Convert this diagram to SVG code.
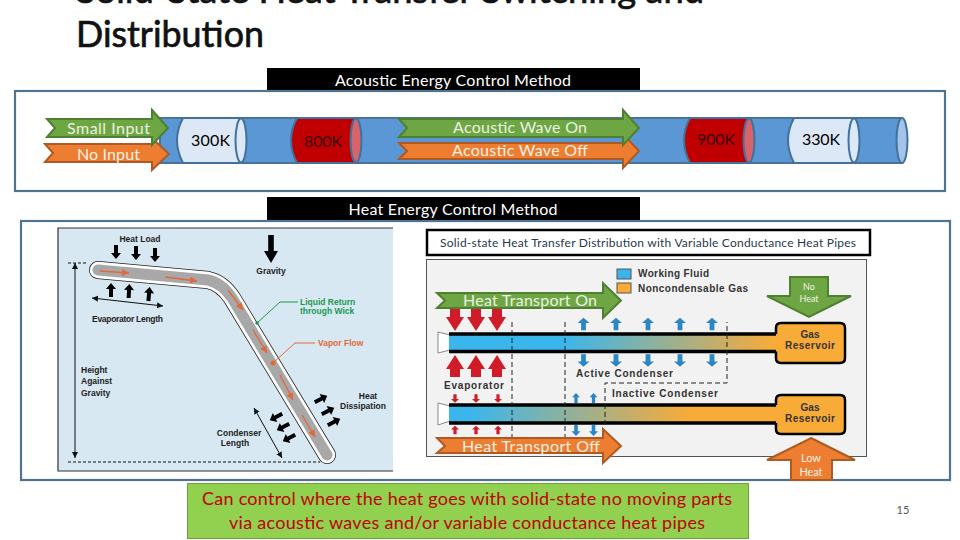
<svg xmlns="http://www.w3.org/2000/svg" width="960" height="540" viewBox="0 0 960 540">
<style>
text{font-family:"Liberation Sans",Arial,sans-serif}
.cal{font-family:Lato,"Open Sans",sans-serif}
.frame{fill:#fff;stroke:#4f7391;stroke-width:2.2}
.bar{fill:#000}
.barT{fill:#fff;font-size:16px;text-anchor:middle;font-family:Lato,sans-serif}
.pipe{fill:#5b97d5;stroke:#4a7396;stroke-width:2}
.ln{stroke:#41719c;stroke-width:2}
.cold{fill:#dce8f5}
.hot{fill:#c00000}
.hotEnd{fill:#d9636b}
.g{fill:#6fa644;stroke:#4f7f30;stroke-width:2}
.o{fill:#ed7d31;stroke:#ae5a22;stroke-width:2}
.aT{fill:#e9f2e2;font-size:16px;text-anchor:middle;font-family:Lato,sans-serif}
.oT{fill:#fdf0e4;font-size:16px;text-anchor:middle;font-family:Lato,sans-serif}
.k{fill:#000;font-size:16px;text-anchor:middle;font-family:Lato,sans-serif}
.small{font-size:8.5px;font-weight:bold;fill:#222}
.mid{text-anchor:middle}
.thin{stroke:#111;stroke-width:1;fill:none}
.dash{stroke:#222;stroke-width:1;fill:none;stroke-dasharray:5 3}
.or{stroke:#e2683a;stroke-width:1.4;fill:none;marker-end:url(#orTip)}
.blue{fill:#2a86c4}
.red{fill:#d01c28}
.lab2{font-size:10px;font-weight:bold;fill:#333}
.res{fill:#f9ab38;stroke:#000;stroke-width:2.5}
</style>
<defs>
<polygon id="da" points="-2,-7 2,-7 2,1 5,1 0,7 -5,1 -2,1"/>
<polygon id="bigR" points="-5,-11 5,-11 5,-3 9,-3 0,11 -9,-3 -5,-3"/>
<marker id="orTip" markerWidth="6" markerHeight="6" refX="5" refY="2.500" orient="auto"><path d="M0,0L5,2.500L0,5z" fill="#e2683a"/></marker>
<marker id="kTip" markerWidth="7" markerHeight="7" refX="6" refY="3" orient="auto-start-reverse"><path d="M0,0L6,3L0,6z" fill="#111"/></marker>
<linearGradient id="p1" gradientUnits="userSpaceOnUse" x1="450" y1="0" x2="776" y2="0"><stop offset="0.35" stop-color="#3bb6ec"/><stop offset="1" stop-color="#f9ab38"/></linearGradient>
<linearGradient id="p2" gradientUnits="userSpaceOnUse" x1="470" y1="0" x2="690" y2="0"><stop offset="0" stop-color="#3bb6ec"/><stop offset="1" stop-color="#f9ab38"/></linearGradient>
</defs>
<rect width="960" height="540" fill="#fff"/>

<g id="title" class="cal" font-size="37" fill="#111" stroke="#111" stroke-width=".7">
<text class="cal" x="76" y="3" textLength="628" lengthAdjust="spacingAndGlyphs">Solid-State Heat Transfer Switching and</text>
<text class="cal" x="76" y="47" textLength="188" lengthAdjust="spacingAndGlyphs">Distribution</text>
</g>

<g id="acoustic-label"><rect class="bar" x="267" y="68" width="373" height="23"/><text class="barT" x="453" y="86" textLength="236">Acoustic Energy Control Method</text></g>
<g id="heat-label"><rect class="bar" x="267" y="197" width="373" height="24"/><text class="barT" x="453" y="215" textLength="209">Heat Energy Control Method</text></g>

<g id="acoustic-frame"><rect class="frame" x="15" y="91" width="930" height="100"/></g>

<g id="pipe">
<path class="pipe" d="M160,118H902V163H160z"/>
<ellipse cx="902" cy="140.500" rx="5.500" ry="22.500" fill="#a3c4e8" stroke="#41719c" stroke-width="2"/>
</g>
<g id="cyl-300">
<path class="cold ln" d="M183,118H241V163H183Q171,140 183,118z"/>
<ellipse class="cold ln" cx="241" cy="140.500" rx="5.500" ry="22"/>
<text class="k" x="210.500" y="146" textLength="39">300K</text>
</g>
<g id="cyl-800">
<path class="hot ln" d="M297,118H356V163H297Q285,140 297,118z"/>
<ellipse class="hotEnd ln" cx="356" cy="140.500" rx="5.500" ry="22"/>
<text class="k" x="323" y="147" textLength="38" style="fill:#3a0606">800K</text>
</g>
<g id="cyl-900">
<path class="hot ln" d="M690,118H749V163H690Q678,140 690,118z"/>
<ellipse class="hotEnd ln" cx="749" cy="140.500" rx="5.500" ry="22"/>
<text class="k" x="716" y="145" textLength="38" style="fill:#3a0606">900K</text>
</g>
<g id="cyl-330">
<path class="cold ln" d="M794,118H854V163H794Q782,140 794,118z"/>
<ellipse class="cold ln" cx="854" cy="140.500" rx="5.500" ry="22"/>
<text class="k" x="821" y="145" textLength="38">330K</text>
</g>

<g id="no-input"><path class="o" d="M45,144H152V138L169,154L152,170V162H45L53,153z"/><text class="oT" x="108.500" y="160" textLength="63">No Input</text></g>
<g id="small-input"><path class="g" d="M47,119H152V110L168,128L152,145V137H47L55,128z"/><text class="aT" x="108.500" y="134" textLength="83">Small Input</text></g>
<g id="wave-off"><path class="o" d="M399,143H623V134L639,151L623,168V159H399L407,151z"/><text class="oT" x="520" y="156" textLength="136">Acoustic Wave Off</text></g>
<g id="wave-on"><path class="g" d="M399,119H623V110L639,128L623,145V137H399L407,128z"/><text class="aT" x="520" y="133" textLength="134">Acoustic Wave On</text></g>

<g id="heat-frame"><rect class="frame" x="21" y="221" width="929" height="259"/></g>

<g id="heat-pipe-figure">
<rect x="58" y="228" width="335" height="243" fill="#d8e8f3"/>
<path d="M393,228H58V471H393" fill="none" stroke="#333" stroke-width="1.200"/>
<path d="M98,270L208,280Q222,283 232,298L327,455" fill="none" stroke="#222" stroke-width="18" stroke-linecap="round"/>
<path d="M98,270L208,280Q222,283 232,298L327,455" fill="none" stroke="#fff" stroke-width="16.500" stroke-linecap="round"/>
<path d="M98,270L208,280Q222,283 232,298L327,455" fill="none" stroke="#a8a8a8" stroke-width="11" stroke-linecap="round"/>
<g fill="#000">
<use href="#da" transform="translate(116,252)"/><use href="#da" transform="translate(136,253)"/><use href="#da" transform="translate(155,255)"/>
<use href="#da" transform="translate(111,290) rotate(180)"/><use href="#da" transform="translate(129,291) rotate(183)"/><use href="#da" transform="translate(149,294) rotate(185)"/>
<use href="#da" transform="translate(271,249) scale(1.400,2)"/>
<use href="#da" transform="translate(321,399) rotate(-117)"/><use href="#da" transform="translate(328,411) rotate(-117)"/><use href="#da" transform="translate(334,422) rotate(-117)"/>
<use href="#da" transform="translate(276,417) rotate(63)"/><use href="#da" transform="translate(283,427) rotate(63)"/><use href="#da" transform="translate(289,438) rotate(63)"/>
</g>
<path class="or" d="M100,271L129,273"/><path class="or" d="M165,277L197,281"/><path class="or" d="M228,290L243,310"/><path class="or" d="M253,330L267,353"/><path class="or" d="M280,375L293,400"/><path class="or" d="M302,415L315,437"/>
<path class="thin" marker-start="url(#kTip)" marker-end="url(#kTip)" d="M75,263V458"/>
<path class="thin" marker-start="url(#kTip)" marker-end="url(#kTip)" d="M92,298L163,306"/>
<path class="thin" marker-start="url(#kTip)" marker-end="url(#kTip)" d="M254,408L282,458"/>
<path class="thin" stroke-dasharray="3 2" d="M68,263H88M68,462H320"/>
<path d="M257,323L280,302H298" fill="none" stroke="#1a9850" stroke-width="1"/><circle cx="257" cy="323" r="1.800" fill="#1a9850"/>
<path d="M273,363L295,343H315" fill="none" stroke="#e2683a" stroke-width="1"/><circle cx="273" cy="363" r="2.500" fill="#e2683a"/>
<text class="small mid" x="140" y="242">Heat Load</text>
<text class="small mid" x="271" y="274">Gravity</text>
<text class="small" x="92" y="322" textLength="71">Evaporator Length</text>
<text class="small" x="300" y="305" style="fill:#1a9850">Liquid Return</text>
<text class="small" x="300" y="314" style="fill:#1a9850">through Wick</text>
<text class="small" x="318" y="346" style="fill:#e2683a">Vapor Flow</text>
<text class="small" x="81" y="373">Height</text><text class="small" x="81" y="384">Against</text><text class="small" x="81" y="396">Gravity</text>
<text class="small mid" x="368" y="399">Heat</text><text class="small mid" x="363" y="409">Dissipation</text>
<text class="small mid" x="239" y="436">Condenser</text><text class="small mid" x="235" y="446">Length</text>
</g>

<g id="vc-title"><rect x="427" y="230" width="443" height="25" fill="#fff" stroke="#000" stroke-width="2.500"/><text class="cal" x="648" y="246.500" font-size="12" text-anchor="middle" fill="#1f3a4f" textLength="416">Solid-state Heat Transfer Distribution with Variable Conductance Heat Pipes</text></g>

<g id="vc-figure">
<rect x="426.500" y="259.500" width="440" height="197" fill="#f2f2f2" stroke="#555"/>
<rect x="617" y="269" width="14" height="10" fill="#3bb6ec" stroke="#555"/><rect x="617" y="283" width="14" height="10" fill="#f9ab38" stroke="#555"/>
<text class="lab2" x="638" y="277" textLength="71">Working Fluid</text><text class="lab2" x="638" y="292" textLength="110">Noncondensable Gas</text>
<path d="M438,332L450,335V350L438,353z" fill="#fff" stroke="#888"/>
<path d="M438,403L450,406V421L438,425z" fill="#fff" stroke="#888"/>
<rect x="449" y="334" width="328" height="17.500" fill="url(#p1)"/>
<path d="M449,334H777M449,351.500H777" stroke="#000" stroke-width="3.500" fill="none"/>
<rect x="449" y="405" width="328" height="18" fill="url(#p2)"/>
<path d="M449,405H777M449,423H777" stroke="#000" stroke-width="3.500" fill="none"/>
<path class="res" d="M776,334V328Q776,323 781,323H840Q845,323 845,328V358Q845,363 840,363H781Q776,363 776,358V351.500" />
<path class="res" d="M776,405V400Q776,395 781,395H840Q845,395 845,400V429Q845,434 840,434H781Q776,434 776,429V423"/>
<g class="red">
<use href="#bigR" transform="translate(455,320)"/><use href="#bigR" transform="translate(476,320)"/><use href="#bigR" transform="translate(497,320)"/>
<use href="#bigR" transform="translate(455,366) rotate(180)"/><use href="#bigR" transform="translate(476,366) rotate(180)"/><use href="#bigR" transform="translate(497,366) rotate(180)"/>
<use href="#da" transform="translate(455,398.500) scale(.8,.6)"/><use href="#da" transform="translate(476,398.500) scale(.8,.6)"/><use href="#da" transform="translate(498,398.500) scale(.8,.6)"/>
<use href="#da" transform="translate(455,430) rotate(180) scale(.8,.6)"/><use href="#da" transform="translate(476,430) rotate(180) scale(.8,.6)"/><use href="#da" transform="translate(498,430) rotate(180) scale(.8,.6)"/>
</g>
<g class="blue">
<use href="#da" transform="translate(583.500,324) rotate(180) scale(1.200,.9)"/><use href="#da" transform="translate(616,324) rotate(180) scale(1.200,.9)"/><use href="#da" transform="translate(648,324) rotate(180) scale(1.200,.9)"/><use href="#da" transform="translate(680,324) rotate(180) scale(1.200,.9)"/><use href="#da" transform="translate(712,324) rotate(180) scale(1.200,.9)"/>
<use href="#da" transform="translate(583.500,360.500) scale(1.200,.9)"/><use href="#da" transform="translate(616,360.500) scale(1.200,.9)"/><use href="#da" transform="translate(648,360.500) scale(1.200,.9)"/><use href="#da" transform="translate(680,360.500) scale(1.200,.9)"/><use href="#da" transform="translate(712,360.500) scale(1.200,.9)"/>
<use href="#da" transform="translate(576,398) rotate(180) scale(.8,.7)"/><use href="#da" transform="translate(593.500,398) rotate(180) scale(.8,.7)"/>
<use href="#da" transform="translate(576,430.500) scale(.9,.8)"/><use href="#da" transform="translate(593.500,430.500) scale(.9,.8)"/>
</g>
<path class="dash" d="M512,322V437M565,322V437M605,425V383H727V322"/>
<text class="lab2 mid" x="474" y="388.500" textLength="60">Evaporator</text>
<text class="lab2" x="576" y="377" textLength="97">Active Condenser</text>
<text class="lab2" x="612" y="397" textLength="106">Inactive Condenser</text>
<text class="lab2 mid" x="810" y="338">Gas</text><text class="lab2 mid" x="810" y="348.500" textLength="50">Reservoir</text>
<text class="lab2 mid" x="810" y="411">Gas</text><text class="lab2 mid" x="810" y="422" textLength="50">Reservoir</text>
</g>

<g id="transport-on"><path class="g" d="M437,293H603V283L621,300.500L603,318V308H437L445,300.500z"/><text class="aT" x="530" y="306" textLength="134">Heat Transport On</text></g>
<g id="transport-off"><path class="o" d="M437,438H603V429L621,446L603,463V453H437L445,446z"/><text class="oT" x="531" y="451.500" textLength="138">Heat Transport Off</text></g>
<g id="no-heat"><path class="g" d="M790,277H828V296H851L809,317L767,296H790z"/><text class="cal" x="809" y="290" font-size="9" fill="#eef5e8" text-anchor="middle">No</text><text class="cal" x="809" y="302" font-size="9" fill="#eef5e8" text-anchor="middle">Heat</text></g>
<g id="low-heat"><path class="o" d="M811,438L855,460H832V480H791V460H767z"/><text class="cal" x="811" y="462" font-size="11" fill="#fdf0e4" text-anchor="middle" textLength="20">Low</text><text class="cal" x="811" y="476" font-size="11" fill="#fdf0e4" text-anchor="middle" textLength="23">Heat</text></g>

<g id="conclusion"><rect x="187.500" y="483.500" width="561" height="55" fill="#92d050" stroke="#6d9e3c"/>
<text class="cal" x="467" y="505" font-size="18" fill="#c00000" text-anchor="middle" textLength="530">Can control where the heat goes with solid-state no moving parts</text>
<text class="cal" x="467" y="529" font-size="18" fill="#c00000" text-anchor="middle" textLength="476">via acoustic waves and/or variable conductance heat pipes</text></g>
<g id="page"><text class="cal" x="903" y="514" font-size="11" fill="#555" text-anchor="middle">15</text></g>
</svg>
